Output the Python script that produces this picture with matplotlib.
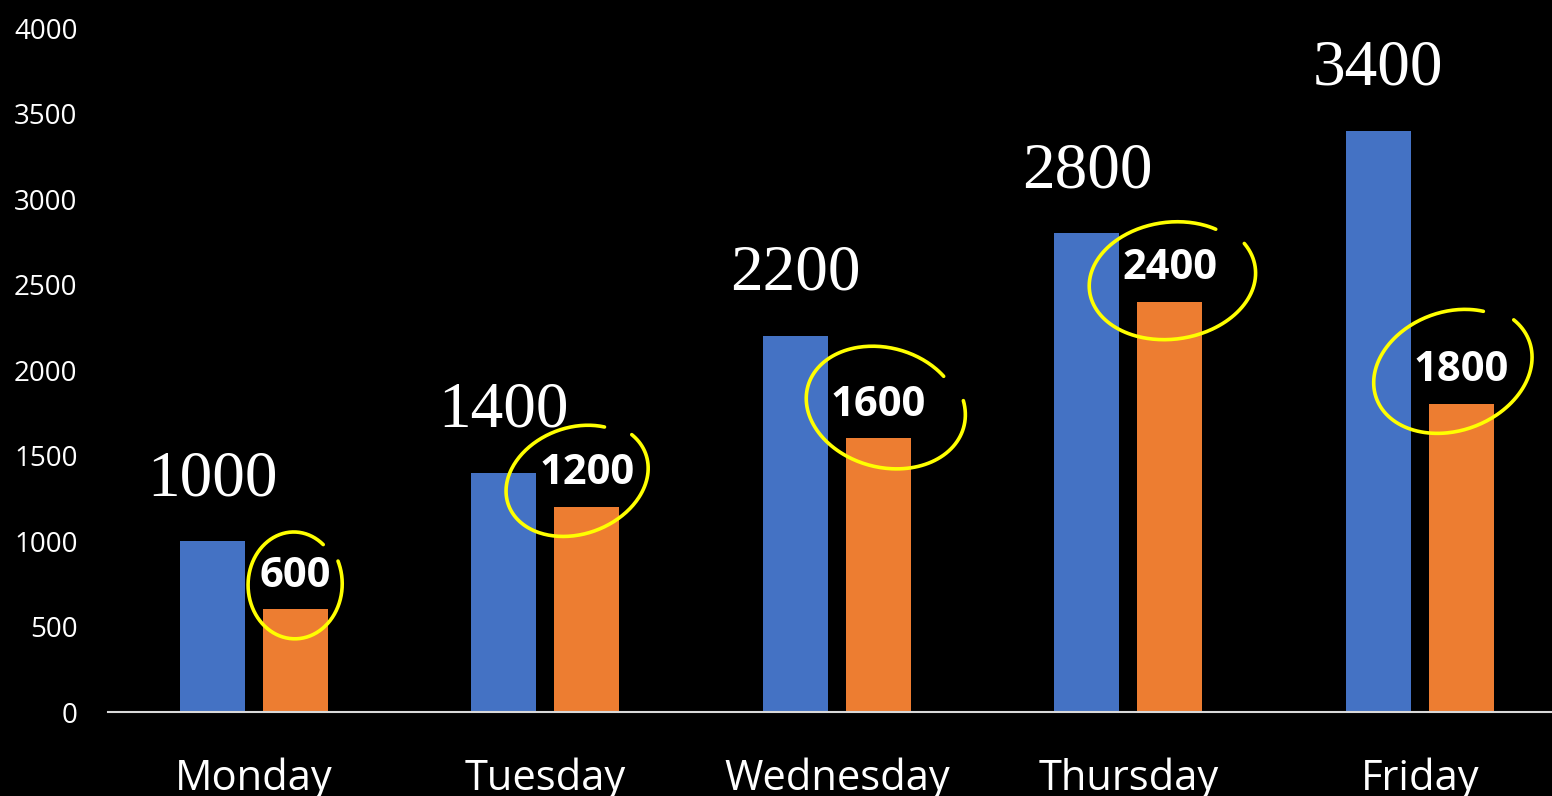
import matplotlib.pyplot as plt
import numpy as np
from matplotlib.transforms import ScaledTranslation

days = ["Monday", "Tuesday", "Wednesday", "Thursday", "Friday"]
blue_values = [1000, 1400, 2200, 2800, 3400]
orange_values = [600, 1200, 1600, 2400, 1800]
y_ticks = [0, 500, 1000, 1500, 2000, 2500, 3000, 3500, 4000]

# hand-drawn yellow rings round the orange labels, in pixels relative to the bar top:
# (dx, dy, rx, ry, tilt in degrees)
rings = [(-1, 25, 45, 52, 0),
         (-11, 27, 70, 52, 20),
         (6, 32, 77, 58, -15),
         (1, 22, 80, 57, 8),
         (-10, 34, 78, 58, 20)]

plt.rcParams['font.family'] = ['Open Sans', 'DejaVu Sans']

fig = plt.figure(figsize=(15.52, 7.96), dpi=100, facecolor='black')
ax = fig.add_axes([0.0696, 0.1055, 0.9304, 0.8593])
ax.set_facecolor('black')

x = np.arange(len(days))
off, w = 0.1424, 0.223
ax.bar(x - off, blue_values, w, color='#4472C4', zorder=2)
ax.bar(x + off, orange_values, w, color='#ED7D31', zorder=2)

ax.set_xlim(-0.5, 4.453)
ax.set_ylim(0, 4000)

for xi, v in zip(x - off, blue_values):
    ax.annotate(str(v), (xi, v), xytext=(0, 33), textcoords='offset points',
                ha='center', va='baseline', color='white', fontsize=47,
                family=['Liberation Serif'], annotation_clip=False, zorder=4)

for xi, v in zip(x + off, orange_values):
    ax.annotate(str(v), (xi, v), xytext=(0, 16.5), textcoords='offset points',
                ha='center', va='baseline', color='white', fontsize=30,
                fontweight='bold', annotation_clip=False, zorder=4)


def ring(xd, yd, dx, dy, rx, ry, tilt):
    t = np.linspace(np.radians(50), np.radians(50) + 2 * np.pi * 0.93, 240)
    grow = np.linspace(1.0, 1.07, t.size)
    ex, ey = rx * grow * np.cos(t), ry * grow * np.sin(t)
    a = np.radians(tilt)
    px = dx + ex * np.cos(a) - ey * np.sin(a)
    py = dy + ex * np.sin(a) + ey * np.cos(a)
    tr = fig.dpi_scale_trans + ScaledTranslation(xd, yd, ax.transData)
    ax.plot(px / 100, py / 100, transform=tr, color='#FFFF00', lw=2.6,
            clip_on=False, zorder=5, solid_capstyle='round')


for xi, v, r in zip(x + off, orange_values, rings):
    ring(xi, v, *r)

ax.set_xticks(x, days)
ax.set_yticks(y_ticks)
ax.tick_params(axis='x', length=0, pad=33, labelsize=30, colors='white')
ax.tick_params(axis='y', length=0, pad=22, labelsize=20, colors='white')
for s in ['top', 'right', 'left']:
    ax.spines[s].set_visible(False)
ax.spines['bottom'].set_color('#d9d9d9')
ax.spines['bottom'].set_linewidth(1.5)

fig.savefig('out.png', dpi=100, facecolor='black')
